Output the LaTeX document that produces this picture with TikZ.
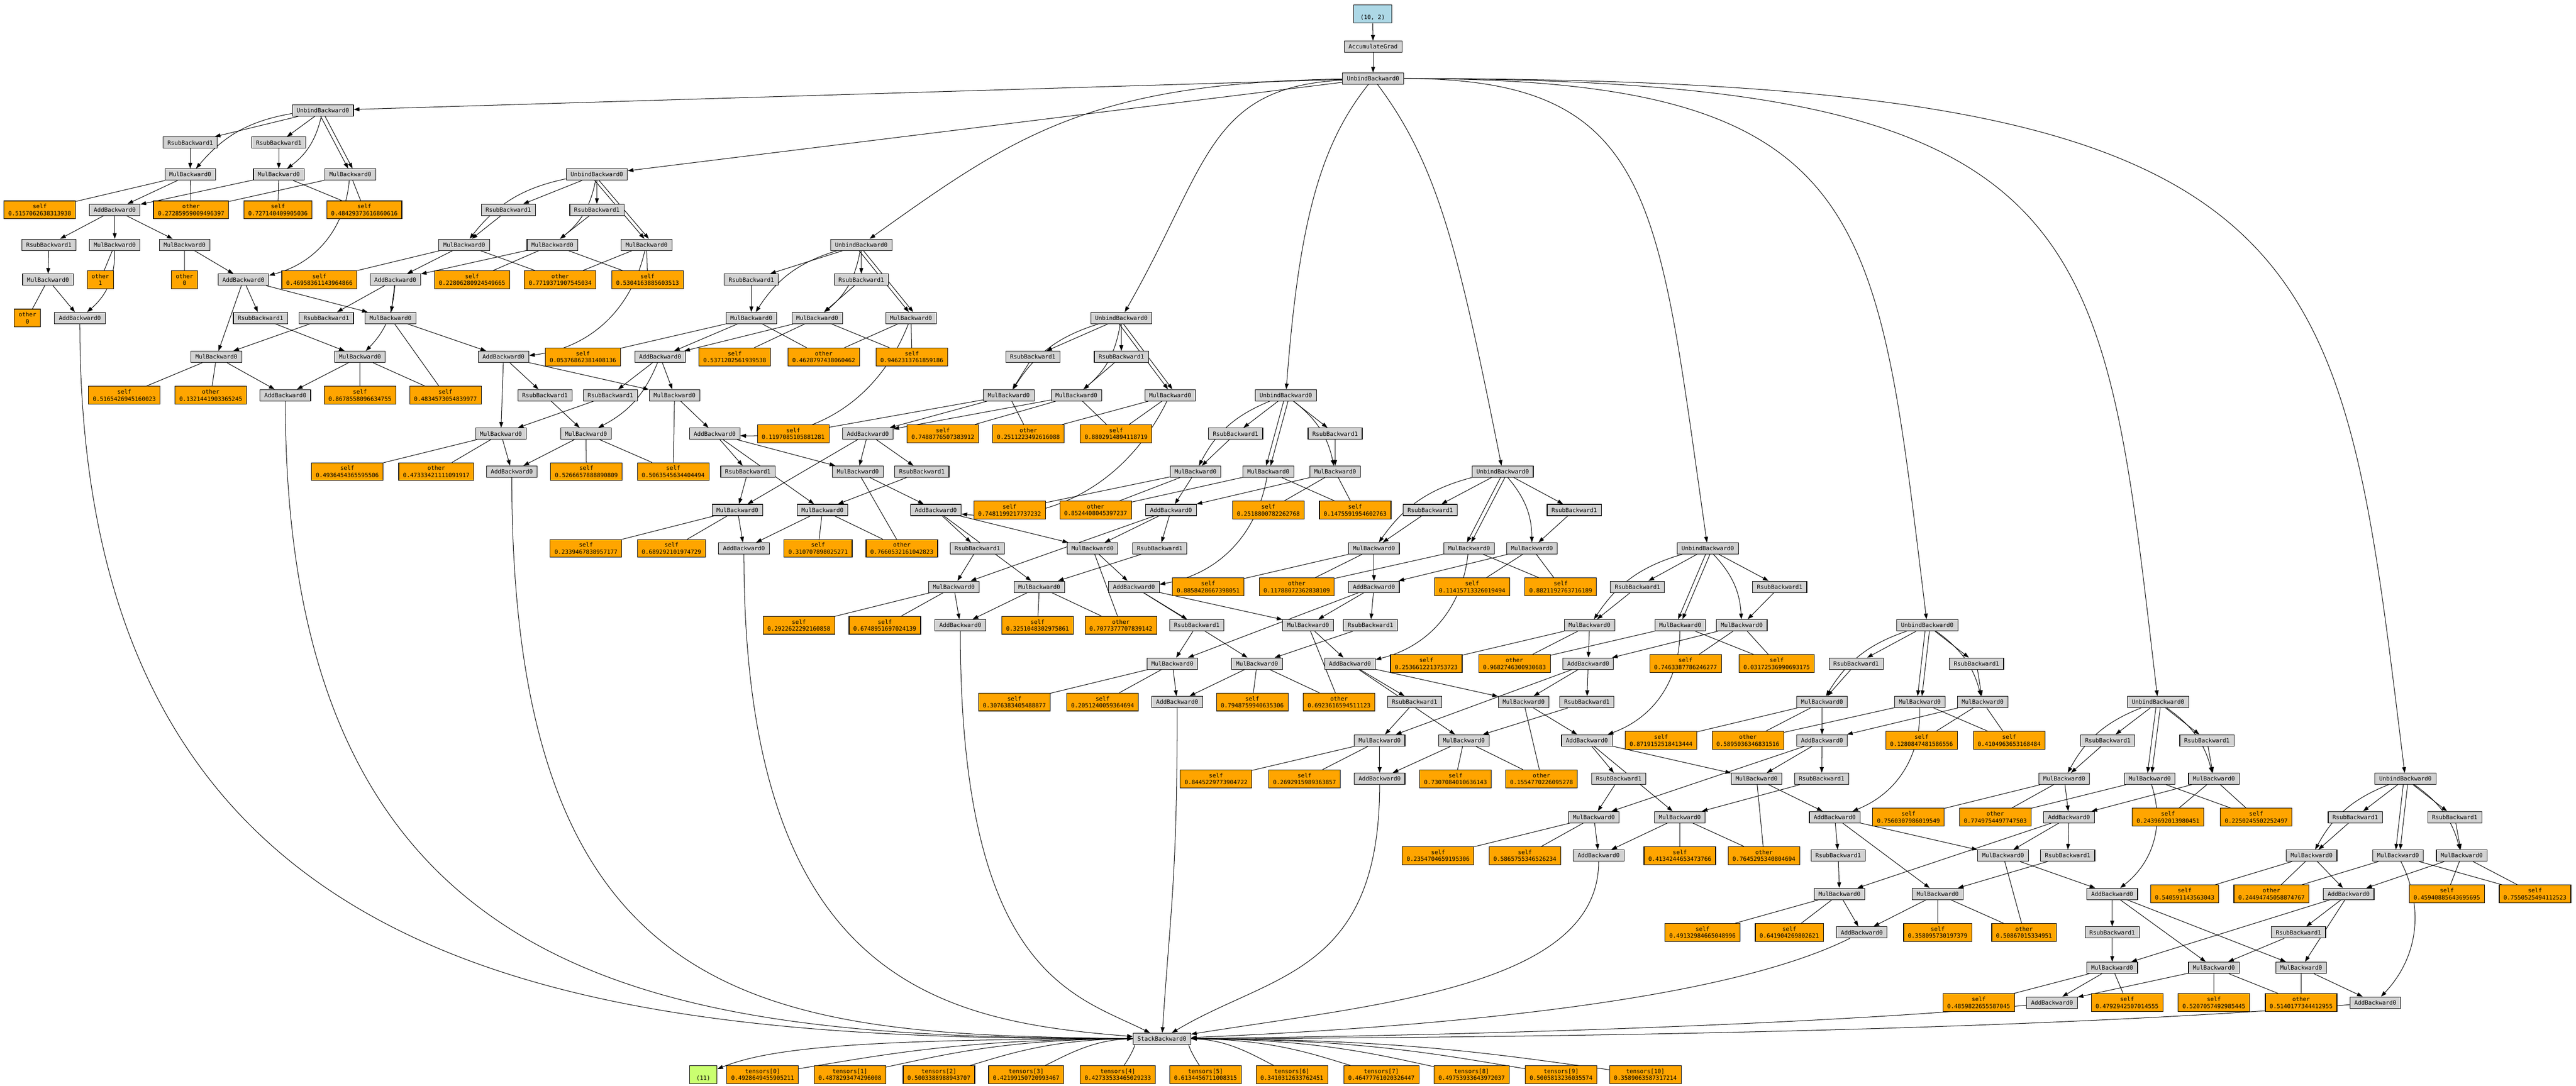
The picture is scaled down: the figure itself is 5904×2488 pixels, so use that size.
\documentclass[tikz,border=0pt]{standalone}
\usepackage{fontspec}
\usepackage{tikz}
\usetikzlibrary{arrows.meta,backgrounds}
\newfontfamily\gvmono{DejaVu Sans Mono}
\definecolor{gvgray}{HTML}{D3D3D3}
\definecolor{gvorange}{HTML}{FFA500}
\definecolor{gvblue}{HTML}{ADD8E6}
\definecolor{gvgreen}{HTML}{CAFF70}
\tikzset{
  op/.style={draw, line width=1.3pt, fill=gvgray, font=\gvmono\fontsize{13.3}{16}\selectfont, inner xsep=10pt, inner ysep=0pt, minimum height=26pt},
  saved/.style={op, fill=gvorange, align=center, minimum height=41pt},
  param/.style={op, fill=gvblue, align=center, minimum width=87pt, minimum height=42pt},
  outv/.style={op, fill=gvgreen, align=center, minimum width=63pt, minimum height=41pt},
  arr/.style={-{Triangle[length=13pt,width=9pt]}}
}

\begin{document}
\begin{tikzpicture}[x=1pt, y=-1pt, line width=1.2pt]
\useasboundingbox (0,0) rectangle (5904,2488);

% parameter
\node[param] (w) at (3146,32) {\phantom{0}\\(10, 2)};
\node[op] (acc) at (3147,107) {AccumulateGrad};
\node[op] (root) at (3147,180) {UnbindBackward0};

% block 1
\node[op] (h1) at (740,253) {UnbindBackward0};
\node[op] (ra1) at (436,327) {RsubBackward1};
\node[op] (rb1) at (639,327) {RsubBackward1};
\node[op] (ma1) at (436,400) {MulBackward0};
\node[op] (mb1) at (639,400) {MulBackward0};
\node[op] (mc1) at (803,400) {MulBackward0};
\node[op] (p1) at (263,481) {AddBackward0};
\node[saved] (la1) at (91,481) {self\\0.5157062638313938};
\node[saved] (lo1) at (438,481) {other\\0.27285959009496397};
\node[saved] (ls1) at (637,481) {self\\0.727140409905036};
\node[saved] (ld1) at (835,481) {self\\0.48429373616860616};

% block 2
\node[op] (h2) at (1368,400) {UnbindBackward0};
\node[op] (ra2) at (1165,481) {RsubBackward1};
\node[op] (rb2) at (1368,481) {RsubBackward1};
\node[op] (ma2) at (1064,561) {MulBackward0};
\node[op] (mb2) at (1266,561) {MulBackward0};
\node[op] (mc2) at (1482,561) {MulBackward0};
\node[op] (p2) at (906,641) {AddBackward0};
\node[saved] (la2) at (732,641) {self\\0.46958361143964866};
\node[saved] (ls2) at (1082,641) {self\\0.22806280924549665};
\node[saved] (lo2) at (1284,641) {other\\0.7719371907545034};
\node[saved] (ld2) at (1484,641) {self\\0.5304163885603513};

% block 3
\node[op] (h3) at (1974,561) {UnbindBackward0};
\node[op] (ra3) at (1722,641) {RsubBackward1};
\node[op] (rb3) at (1974,641) {RsubBackward1};
\node[op] (ma3) at (1722,729) {MulBackward0};
\node[op] (mb3) at (1873,729) {MulBackward0};
\node[op] (mc3) at (2088,729) {MulBackward0};
\node[op] (p3) at (1513,818) {AddBackward0};
\node[saved] (la3) at (1336,818) {self\\0.05376862381408136};
\node[saved] (ls3) at (1684,818) {self\\0.5371202561939538};
\node[saved] (lo3) at (1888,818) {other\\0.4628797438060462};
\node[saved] (ld3) at (2090,818) {self\\0.9462313761859186};

% block 4
\node[op] (h4) at (2570,729) {UnbindBackward0};
\node[op] (ra4) at (2367,818) {RsubBackward1};
\node[op] (rb4) at (2570,818) {RsubBackward1};
\node[op] (ma4) at (2312,906) {MulBackward0};
\node[op] (mb4) at (2467,906) {MulBackward0};
\node[op] (mc4) at (2682,906) {MulBackward0};
\node[op] (p4) at (1989,994) {AddBackward0};
\node[saved] (la4) at (1818,994) {self\\0.1197085105881281};
\node[saved] (ls4) at (2161,994) {self\\0.7488776507383912};
\node[saved] (lo4) at (2357,994) {other\\0.2511223492616088};
\node[saved] (ld4) at (2558,994) {self\\0.8802914894118719};

% block 5
\node[op] (h5) at (2947,906) {UnbindBackward0};
\node[op] (ra5) at (2832,994) {RsubBackward1};
\node[op] (rb5) at (3060,994) {RsubBackward1};
\node[op] (ma5) at (2740,1081) {MulBackward0};
\node[op] (mb5) at (3060,1081) {MulBackward0};
\node[op] (mc5) at (2907,1081) {MulBackward0};
\node[op] (p5) at (2684,1169) {AddBackward0};
\node[saved] (la5) at (2314,1169) {self\\0.7481199217737232};
\node[saved] (lo5) at (2511,1169) {other\\0.8524408045397237};
\node[saved] (ls5) at (2907,1169) {self\\0.2518800782262768};
\node[saved] (ld5) at (3106,1169) {self\\0.1475591954602763};

% block 6
\node[op] (h6) at (3444,1081) {UnbindBackward0};
\node[op] (ra6) at (3278,1169) {RsubBackward1};
\node[op] (rb6) at (3608,1169) {RsubBackward1};
\node[op] (ma6) at (3149,1257) {MulBackward0};
\node[op] (mb6) at (3511,1257) {MulBackward0};
\node[op] (mc6) at (3367,1257) {MulBackward0};
\node[op] (p6) at (3149,1345) {AddBackward0};
\node[saved] (la6) at (2769,1345) {self\\0.8858428667398051};
\node[saved] (lo6) at (2972,1345) {other\\0.11788072362838109};
\node[saved] (ls6) at (3374,1345) {self\\0.11415713326019494};
\node[saved] (ld6) at (3577,1345) {self\\0.8821192763716189};

% block 7
\node[op] (h7) at (3914,1257) {UnbindBackward0};
\node[op] (ra7) at (3753,1345) {RsubBackward1};
\node[op] (rb7) at (4079,1345) {RsubBackward1};
\node[op] (ma7) at (3643,1433) {MulBackward0};
\node[op] (mb7) at (3992,1433) {MulBackward0};
\node[op] (mc7) at (3851,1433) {MulBackward0};
\node[op] (p7) at (3640,1521) {AddBackward0};
\node[saved] (la7) at (3269,1521) {self\\0.2536612213753723};
\node[saved] (lo7) at (3471,1521) {other\\0.9682746300930683};
\node[saved] (ls7) at (3863,1521) {self\\0.7463387786246277};
\node[saved] (ld7) at (4072,1521) {self\\0.03172536990693175};

% block 8
\node[op] (h8) at (4417,1433) {UnbindBackward0};
\node[op] (ra8) at (4254,1521) {RsubBackward1};
\node[op] (rb8) at (4530,1521) {RsubBackward1};
\node[op] (ma8) at (4176,1609) {MulBackward0};
\node[op] (mb8) at (4544,1609) {MulBackward0};
\node[op] (mc8) at (4400,1609) {MulBackward0};
\node[op] (p8) at (4176,1697) {AddBackward0};
\node[saved] (la8) at (3807,1697) {self\\0.8719152518413444};
\node[saved] (lo8) at (4006,1697) {other\\0.5895036346831516};
\node[saved] (ls8) at (4404,1697) {self\\0.1280847481586556};
\node[saved] (ld8) at (4605,1697) {self\\0.4104963653168484};

% block 9
\node[op] (h9) at (4946,1609) {UnbindBackward0};
\node[op] (ra9) at (4831,1697) {RsubBackward1};
\node[op] (rb9) at (5058,1697) {RsubBackward1};
\node[op] (ma9) at (4731,1785) {MulBackward0};
\node[op] (mb9) at (5074,1785) {MulBackward0};
\node[op] (mc9) at (4927,1785) {MulBackward0};
\node[op] (p9) at (4742,1873) {AddBackward0};
\node[saved] (la9) at (4374,1873) {self\\0.7560307986019549};
\node[saved] (lo9) at (4573,1873) {other\\0.7749754497747503};
\node[saved] (ls9) at (4969,1873) {self\\0.2439692013980451};
\node[saved] (ld9) at (5171,1873) {self\\0.2250245502252497};

% block 10
\node[op] (h10) at (5513,1785) {UnbindBackward0};
\node[op] (ra10) at (5398,1873) {RsubBackward1};
\node[op] (rb10) at (5626,1873) {RsubBackward1};
\node[op] (ma10) at (5298,1961) {MulBackward0};
\node[op] (mb10) at (5642,1961) {MulBackward0};
\node[op] (mc10) at (5496,1961) {MulBackward0};
\node[op] (p10) at (5383,2049) {AddBackward0};
\node[saved] (la10) at (5007,2049) {self\\0.540591143563043};
\node[saved] (lo10) at (5206,2049) {other\\0.24494745058874767};
\node[saved] (ls10) at (5608,2049) {self\\0.45940885643695695};
\node[saved] (ld10) at (5810,2049) {self\\0.7550525494112523};

% first output
\node[op] (z0r) at (112,561) {RsubBackward1};
\node[op] (z0m) at (263,561) {MulBackward0};
\node[op] (xc0) at (423,561) {MulBackward0};
\node[op] (z0a) at (110,641) {MulBackward0};
\node[saved] (c1) at (230,641) {other\\1};
\node[saved] (c2) at (423,641) {other\\0};
\node[saved] (c0) at (63,729) {other\\0};
\node[op] (o0) at (183,729) {AddBackward0};
\node[op] (q1) at (558,641) {AddBackward0};

% output 1
\node[op] (sa1) at (597,729) {RsubBackward1};
\node[op] (sb1) at (748,729) {RsubBackward1};
\node[op] (xc1) at (895,729) {MulBackward0};
\node[op] (xa1) at (496,818) {MulBackward0};
\node[op] (xb1) at (825,818) {MulBackward0};
\node[op] (o1) at (654,906) {AddBackward0};
\node[saved] (ua1) at (285,906) {self\\0.5165426945160023};
\node[saved] (ub1) at (483,906) {other\\0.1321441903365245};
\node[saved] (uc1) at (825,906) {self\\0.8678558096634755};
\node[saved] (ud1) at (1021,906) {self\\0.4834573054839977};
\node[op] (q2) at (1154,818) {AddBackward0};

% output 2
\node[op] (sa2) at (1249,906) {RsubBackward1};
\node[op] (sb2) at (1399,906) {RsubBackward1};
\node[op] (xc2) at (1546,906) {MulBackward0};
\node[op] (xa2) at (1148,994) {MulBackward0};
\node[op] (xb2) at (1343,994) {MulBackward0};
\node[op] (o2) at (1173,1081) {AddBackward0};
\node[saved] (ua2) at (796,1081) {self\\0.4936454365595506};
\node[saved] (ub2) at (1000,1081) {other\\0.47333421111091917};
\node[saved] (uc2) at (1344,1081) {self\\0.5266657888890809};
\node[saved] (ud2) at (1543,1081) {self\\0.5063545634404494};
\node[op] (q3) at (1638,994) {AddBackward0};

% output 3
\node[op] (sa3) at (1714,1081) {RsubBackward1};
\node[op] (xc3) at (1966,1081) {MulBackward0};
\node[op] (sb3) at (2113,1081) {RsubBackward1};
\node[op] (xa3) at (1690,1169) {MulBackward0};
\node[op] (xb3) at (1885,1169) {MulBackward0};
\node[op] (o3) at (1705,1257) {AddBackward0};
\node[saved] (ua3) at (1343,1257) {self\\0.2339467838957177};
\node[saved] (ub3) at (1539,1257) {self\\0.689292101974729};
\node[saved] (uc3) at (1875,1257) {self\\0.310707898025271};
\node[saved] (ud3) at (2067,1257) {other\\0.7660532161042823};
\node[op] (q4) at (2145,1169) {AddBackward0};

% output 4
\node[op] (sa4) at (2240,1257) {RsubBackward1};
\node[op] (xc4) at (2504,1257) {MulBackward0};
\node[op] (sb4) at (2658,1257) {RsubBackward1};
\node[op] (xa4) at (2186,1345) {MulBackward0};
\node[op] (xb4) at (2382,1345) {MulBackward0};
\node[op] (o4) at (2201,1433) {AddBackward0};
\node[saved] (ua4) at (1831,1433) {self\\0.2922622292160858};
\node[saved] (ub4) at (2028,1433) {self\\0.6748951697024139};
\node[saved] (uc4) at (2378,1433) {self\\0.3251048302975861};
\node[saved] (ud4) at (2569,1433) {other\\0.7077377707839142};
\node[op] (q5) at (2599,1345) {AddBackward0};

% output 5
\node[op] (sa5) at (2743,1433) {RsubBackward1};
\node[op] (xc5) at (2998,1433) {MulBackward0};
\node[op] (sb5) at (3141,1433) {RsubBackward1};
\node[op] (xa5) at (2687,1521) {MulBackward0};
\node[op] (xb5) at (2881,1521) {MulBackward0};
\node[op] (o5) at (2698,1609) {AddBackward0};
\node[saved] (ua5) at (2325,1609) {self\\0.3076383405488877};
\node[saved] (ub5) at (2527,1609) {self\\0.2051240059364694};
\node[saved] (uc5) at (2870,1609) {self\\0.7948759940635306};
\node[saved] (ud5) at (3069,1609) {other\\0.6923616594511123};
\node[op] (q6) at (3094,1521) {AddBackward0};

% output 6
\node[op] (sa6) at (3242,1609) {RsubBackward1};
\node[op] (xc6) at (3492,1609) {MulBackward0};
\node[op] (sb6) at (3637,1609) {RsubBackward1};
\node[op] (xa6) at (3162,1697) {MulBackward0};
\node[op] (xb6) at (3355,1697) {MulBackward0};
\node[op] (o6) at (3162,1785) {AddBackward0};
\node[saved] (ua6) at (2787,1785) {self\\0.8445229773904722};
\node[saved] (ub6) at (2990,1785) {self\\0.2692915989363857};
\node[saved] (uc6) at (3336,1785) {self\\0.7307084010636143};
\node[saved] (ud6) at (3533,1785) {other\\0.1554770226095278};
\node[op] (q7) at (3637,1697) {AddBackward0};

% output 7
\node[op] (sa7) at (3710,1785) {RsubBackward1};
\node[op] (xc7) at (4026,1785) {MulBackward0};
\node[op] (sb7) at (4175,1785) {RsubBackward1};
\node[op] (xa7) at (3653,1873) {MulBackward0};
\node[op] (xb7) at (3850,1873) {MulBackward0};
\node[op] (o7) at (3664,1961) {AddBackward0};
\node[saved] (ua7) at (3296,1961) {self\\0.2354704659195306};
\node[saved] (ub7) at (3495,1961) {self\\0.5865755346526234};
\node[saved] (uc7) at (3850,1961) {self\\0.4134244653473766};
\node[saved] (ud7) at (4043,1961) {other\\0.7645295340804694};
\node[op] (q8) at (4205,1873) {AddBackward0};

% output 8
\node[op] (sa8) at (4213,1961) {RsubBackward1};
\node[op] (xc8) at (4591,1961) {MulBackward0};
\node[op] (sb8) at (4739,1961) {RsubBackward1};
\node[op] (xa8) at (4216,2049) {MulBackward0};
\node[op] (xb8) at (4441,2049) {MulBackward0};
\node[op] (o8) at (4267,2137) {AddBackward0};
\node[saved] (ua8) at (3902,2137) {self\\0.49132984665048996};
\node[saved] (ub8) at (4101,2137) {self\\0.641904269802621};
\node[saved] (uc8) at (4441,2137) {self\\0.358095730197379};
\node[saved] (ud8) at (4639,2137) {other\\0.50867015334951};
\node[op] (q9) at (4841,2049) {AddBackward0};

% output 9 and 10
\node[op] (sa9) at (4841,2137) {RsubBackward1};
\node[op] (sb9) at (5268,2137) {RsubBackward1};
\node[op] (xa9) at (4841,2218) {MulBackward0};
\node[op] (xb9) at (5074,2218) {MulBackward0};
\node[op] (xc9) at (5274,2218) {MulBackward0};
\node[op] (o9) at (4703,2298) {AddBackward0};
\node[saved] (ua9) at (4535,2298) {self\\0.4859822655587045};
\node[saved] (ub9) at (4875,2298) {self\\0.4792942507014555};
\node[saved] (uc9) at (5074,2298) {self\\0.5207057492985445};
\node[saved] (ud9) at (5274,2298) {other\\0.5140177344412955};
\node[op] (q10) at (5444,2298) {AddBackward0};

% stack
\node[op] (stack) at (2663,2381) {StackBackward0};
\node[outv] (out) at (1612,2463) {\phantom{0}\\(11)};
\node[saved] (t0) at (1748,2463) {tensors[0]\\0.4928649455905211};
\node[saved] (t1) at (1948,2463) {tensors[1]\\0.4878293474296008};
\node[saved] (t2) at (2152,2463) {tensors[2]\\0.5003388988943707};
\node[saved] (t3) at (2352,2463) {tensors[3]\\0.42199150720993467};
\node[saved] (t4) at (2562,2463) {tensors[4]\\0.42733533465029233};
\node[saved] (t5) at (2763,2463) {tensors[5]\\0.6134456711008315};
\node[saved] (t6) at (2961,2463) {tensors[6]\\0.3410312633762451};
\node[saved] (t7) at (3166,2463) {tensors[7]\\0.46477761020326447};
\node[saved] (t8) at (3373,2463) {tensors[8]\\0.49753933643972037};
\node[saved] (t9) at (3578,2463) {tensors[9]\\0.5005813236035574};
\node[saved] (t10) at (3771,2463) {tensors[10]\\0.3589063587317214};

\begin{pgfonlayer}{background}
\begin{scope}[line width=1.2pt]
% top edges
\draw[arr] (w) -- (acc);
\draw[arr] (acc) -- (root);
\draw[arr] (root) -- (h1);
\draw[arr] (root) -- (h2);
\draw[arr] (root) .. controls +(-650,10) and +(350,-250) .. (h3);
\draw[arr] (root) .. controls +(-380,20) and +(200,-350) .. (h4);
\draw[arr] (root) .. controls +(-120,150) and +(30,-400) .. (h5);
\draw[arr] (root) .. controls +(150,200) and +(-100,-500) .. (h6);
\draw[arr] (root) .. controls +(650,0) and +(-115,-800) .. (h7);
\draw[arr] (root) .. controls +(1150,0) and +(-117,-950) .. (h8);
\draw[arr] (root) .. controls +(1670,0) and +(-130,-1100) .. (h9);
\draw[arr] (root) .. controls +(2210,0) and +(-155,-1250) .. (h10);

% block edges
\foreach \k in {1,...,10} {
  \draw[arr] (h\k) -- (ra\k);
  \draw[arr] (h\k) -- (rb\k);
  \draw[arr] (h\k) to[bend right=20] (ma\k);
  \draw[arr] (h\k) to[bend left=20] (mb\k);
  \draw[arr] ([xshift=-5pt]h\k.south) -- ([xshift=-5pt]mc\k.north);
  \draw[arr] ([xshift=5pt]h\k.south) -- ([xshift=5pt]mc\k.north);
  \draw[arr] (ra\k) -- (ma\k);
  \draw[arr] (rb\k) -- (mb\k);
  \draw[arr] (ma\k) -- (p\k);
  \draw[arr] (mb\k) -- (p\k);
  \draw (ma\k) -- (la\k) (ma\k) -- (lo\k) (mb\k) -- (ls\k) (mb\k) -- (ld\k) (mc\k) -- (lo\k) (mc\k) -- (ld\k);
}

% first output
\draw[arr] (p1) -- (z0r);
\draw[arr] (p1) -- (z0m);
\draw[arr] (p1) -- (xc0);
\draw[arr] (z0r) -- (z0a);
\draw[arr] (z0a) -- (o0);
\draw[arr] (z0m) to[bend left=25] (o0);
\draw (z0a) -- (c0) (z0m) -- (c1) (xc0) -- (c2);
\draw[arr] (xc0) -- (q1);
\draw[arr] (mc1) to[bend left=35] (q1);

% outputs 1 and 2
\foreach \j/\n in {1/2,2/3} {
  \draw[arr] (q\j) -- (sa\j);
  \draw[arr] (q\j) -- (xc\j);
  \draw[arr] (p\n) -- (xc\j);
  \draw[arr] (p\n) -- (sb\j);
  \draw[arr] (q\j) -- (xa\j);
  \draw[arr] (sb\j) -- (xa\j);
  \draw[arr] (sa\j) -- (xb\j);
  \draw[arr] (p\n) to[bend left=20] (xb\j);
  \draw[arr] (xa\j) -- (o\j);
  \draw[arr] (xb\j) -- (o\j);
  \draw[arr] (xc\j) -- (q\n);
  \draw[arr] (mc\n) to[bend left=35] (q\n);
  \draw (xa\j) -- (ua\j) (xa\j) -- (ub\j) (xb\j) -- (uc\j) (xb\j) -- (ud\j) (xc\j) -- (ud\j);
}

% outputs 3 to 9
\foreach \j/\n in {3/4,4/5,5/6,6/7,7/8,8/9,9/10} {
  \draw[arr] (q\j) -- (sa\j);
  \draw[arr] (q\j) -- (xc\j);
  \draw[arr] (p\n) -- (xc\j);
  \draw[arr] (p\n) -- (sb\j);
  \draw[arr] (sa\j) -- (xa\j);
  \draw[arr] (p\n) -- (xa\j);
  \draw[arr] (sb\j) -- (xb\j);
  \draw[arr] (q\j) -- (xb\j);
  \draw[arr] (xa\j) -- (o\j);
  \draw[arr] (xb\j) -- (o\j);
  \draw[arr] (xc\j) -- (q\n);
  \draw[arr] (mc\n) to[bend left=35] (q\n);
  \draw (xa\j) -- (ua\j) (xa\j) -- (ub\j) (xb\j) -- (uc\j) (xb\j) -- (ud\j) (xc\j) -- (ud\j);
}

% into the stack
\draw[arr] (o0) .. controls +(0,1550) and +(-1300,0) .. (stack);
\draw[arr] (o1) .. controls +(0,1400) and +(-1100,-5) .. (stack);
\draw[arr] (o2) .. controls +(0,1250) and +(-900,-10) .. (stack);
\draw[arr] (o3) .. controls +(0,1000) and +(-500,-40) .. (stack);
\draw[arr] (o4) .. controls +(0,800) and +(-200,-100) .. (stack);
\draw[arr] (o5) .. controls +(0,400) and +(20,-300) .. (stack);
\draw[arr] (o6) .. controls +(0,450) and +(250,-150) .. (stack);
\draw[arr] (o7) .. controls +(0,300) and +(500,-80) .. (stack);
\draw[arr] (o8) .. controls +(-300,150) and +(700,-30) .. (stack);
\draw[arr] (o9) .. controls +(-400,40) and +(900,-10) .. (stack);
\draw[arr] (q10) .. controls +(-500,40) and +(1500,-5) .. (stack);

% out of the stack
\draw[arr] (stack) .. controls +(-700,0) and +(150,-60) .. (out);
\foreach \i/\dx in {0/-915,1/-715,2/-511,3/-311,4/-101,5/100,6/298,7/503,8/710,9/915,10/1108}
  \draw (stack) .. controls +({0.5*\dx},0) and +({-0.3*\dx},-45) .. (t\i);
\end{scope}
\end{pgfonlayer}
\end{tikzpicture}
\end{document}
